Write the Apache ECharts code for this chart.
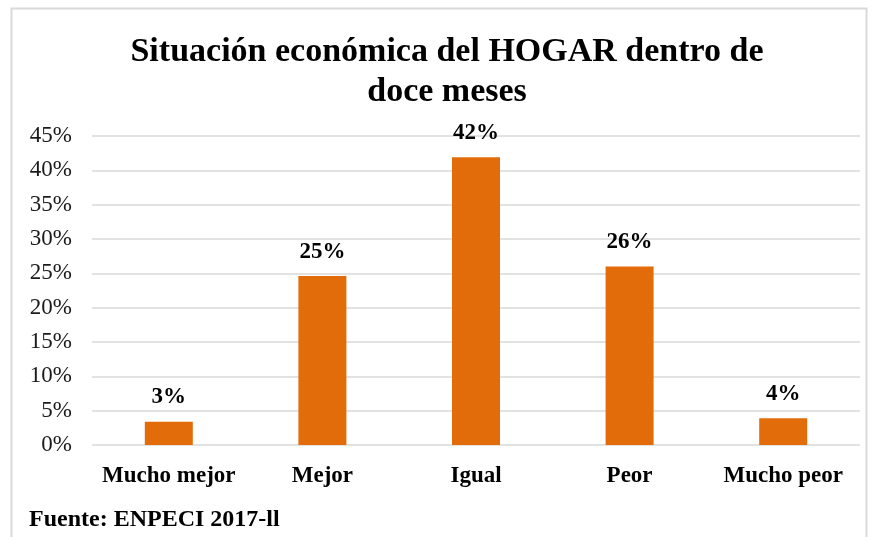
<!DOCTYPE html>
<html>
<head>
<meta charset="utf-8">
<script src="https://cdn.jsdelivr.net/npm/echarts@6/dist/echarts.min.js"></script>
<style>
  html, body { margin: 0; padding: 0; background: #fff; }
  #chart { width: 873px; height: 537px; }
</style>
</head>
<body>
<div id="chart"></div>
<script>
const categories = ['Mucho mejor', 'Mejor', 'Igual', 'Peor', 'Mucho peor'];
const values = [0.034, 0.246, 0.419, 0.26, 0.039];
const titleText = 'Situación económica del HOGAR dentro de\ndoce meses';
const sourceText = 'Fuente: ENPECI 2017-ll';

const serif = '"Liberation Serif", "Times New Roman", serif';
const myChart = echarts.init(document.getElementById('chart'));
const option = {
  animation: false,
  title: {
    text: titleText,
    left: 442,
    textAlign: 'center',
    top: 27,
    textStyle: {
      fontFamily: serif,
      fontSize: 34,
      fontWeight: 'bold',
      color: '#000',
      lineHeight: 40
    }
  },
  graphic: [
    {
      type: 'rect',
      shape: { x: 11.5, y: 8.5, width: 855, height: 540 },
      style: { fill: 'none', stroke: '#d9d9d9', lineWidth: 2 },
      z: -1
    },
    {
      type: 'text',
      left: 29,
      top: 508,
      style: {
        text: sourceText,
        font: 'bold 24px ' + serif,
        fill: '#000'
      }
    }
  ],
  grid: { left: 92, right: 13, top: 136, bottom: 92 },
  xAxis: {
    type: 'category',
    data: categories,
    axisLine: { show: false },
    axisTick: { show: false },
    axisLabel: {
      interval: 0,
      margin: 20,
      fontFamily: serif,
      fontSize: 23,
      fontWeight: 'bold',
      color: '#000'
    }
  },
  yAxis: {
    type: 'value',
    min: 0,
    max: 0.45,
    interval: 0.05,
    axisLine: { show: false },
    axisTick: { show: false },
    splitLine: { lineStyle: { color: '#d9d9d9', width: 1.5 } },
    axisLabel: {
      margin: 20,
      fontFamily: serif,
      fontSize: 23,
      color: '#1a1a1a',
      formatter: v => Math.round(v * 100) + '%'
    }
  },
  series: [{
    type: 'bar',
    data: values,
    barWidth: 48,
    itemStyle: { color: '#e36c0a' },
    label: {
      show: true,
      position: 'top',
      distance: 13,
      fontFamily: serif,
      fontSize: 23,
      fontWeight: 'bold',
      color: '#000',
      formatter: p => Math.round(p.value * 100) + '%'
    }
  }]
};
myChart.setOption(option);
</script>
</body>
</html>
